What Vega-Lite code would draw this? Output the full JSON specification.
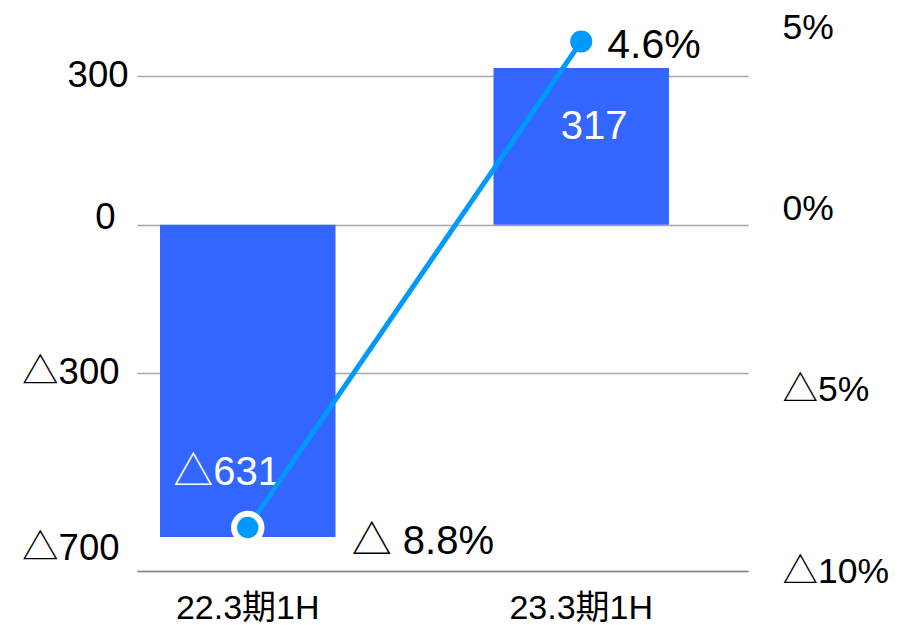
{
  "$schema": "https://vega.github.io/schema/vega-lite/v6.json",
  "width": 611,
  "height": 544,
  "autosize": "none",
  "padding": {"left": 137, "top": 27, "right": 155, "bottom": 54},
  "background": "white",
  "config": {
    "font": "Liberation Sans, Noto Sans CJK JP",
    "view": {"stroke": null},
    "axis": {"labelFont": "Liberation Sans, Noto Sans CJK JP", "labelColor": "#000000"}
  },
  "data": {
    "values": [
      {"period": "22.3期1H", "value": -631, "rate": -8.8, "barLabel": "△631", "rateLabel": "△ 8.8%"},
      {"period": "23.3期1H", "value": 317, "rate": 4.6, "barLabel": "317", "rateLabel": "4.6%"}
    ]
  },
  "encoding": {
    "x": {
      "field": "period",
      "type": "nominal",
      "sort": null,
      "scale": {"paddingInner": 0.4738, "paddingOuter": 0.153, "align": 0.2255},
      "axis": {
        "title": null,
        "labelAngle": 0,
        "labelFontSize": 34,
        "labelPadding": 20,
        "ticks": false,
        "domain": true,
        "domainColor": "#8c8c8c",
        "domainWidth": 1.5
      }
    }
  },
  "layer": [
    {
      "encoding": {
        "y": {
          "field": "value",
          "type": "quantitative",
          "scale": {"domain": [-700, 400], "nice": false, "zero": false},
          "axis": {
            "title": null,
            "orient": "left",
            "values": [300, 0, -300, -700],
            "labelExpr": "datum.value < 0 ? '△' + abs(datum.value) : '' + datum.value",
            "labelFontSize": 36.5,
            "labelPadding": {"condition": [{"test": "datum.value == 300", "value": 9}, {"test": "datum.value == 0", "value": 22}], "value": 18},
            "labelOffset": {"condition": [{"test": "datum.value == -700", "value": -23}, {"test": "datum.value == 0", "value": -7}], "value": -1},
            "ticks": false,
            "domain": false,
            "grid": true,
            "gridColor": "#a6a6a6",
            "gridWidth": 1.5
          }
        }
      },
      "layer": [
        {"mark": {"type": "bar", "color": "#3366ff"}},
        {
          "transform": [{"filter": "datum.value > 0"}],
          "mark": {"type": "text", "color": "white", "fontSize": 40, "baseline": "middle", "align": "center", "dx": 13, "dy": 59},
          "encoding": {"text": {"field": "barLabel"}}
        },
        {
          "transform": [{"filter": "datum.value < 0"}],
          "mark": {"type": "text", "color": "white", "fontSize": 40, "baseline": "middle", "align": "center", "dx": -21, "dy": -64},
          "encoding": {"text": {"field": "barLabel"}}
        }
      ]
    },
    {
      "encoding": {
        "y": {
          "field": "rate",
          "type": "quantitative",
          "scale": {"domain": [-10, 5], "nice": false, "zero": false},
          "axis": {
            "title": null,
            "orient": "right",
            "values": [5, 0, -5, -10],
            "labelExpr": "datum.value < 0 ? '△' + abs(datum.value) + '%' : datum.value + '%'",
            "labelFontSize": 35.5,
            "labelPadding": 34,
            "labelAlign": "left",
            "ticks": false,
            "domain": false,
            "grid": false
          }
        }
      },
      "layer": [
        {"mark": {"type": "line", "color": "#0099ff", "strokeWidth": 5}},
        {
          "mark": {"type": "point", "filled": true, "color": "#0099ff", "opacity": 1},
          "encoding": {
            "size": {"condition": {"test": "datum.rate < 0", "value": 755}, "value": 490},
            "stroke": {"value": "white"},
            "strokeWidth": {"condition": {"test": "datum.rate < 0", "value": 6}, "value": 0}
          }
        },
        {
          "transform": [{"filter": "datum.rate < 0"}],
          "mark": {"type": "text", "color": "black", "fontSize": 40, "baseline": "middle", "align": "left", "dx": 104, "dy": 15},
          "encoding": {"text": {"field": "rateLabel"}}
        },
        {
          "transform": [{"filter": "datum.rate > 0"}],
          "mark": {"type": "text", "color": "black", "fontSize": 41, "baseline": "middle", "align": "left", "dx": 26, "dy": 4},
          "encoding": {"text": {"field": "rateLabel"}}
        }
      ]
    }
  ],
  "resolve": {"scale": {"y": "independent"}}
}
